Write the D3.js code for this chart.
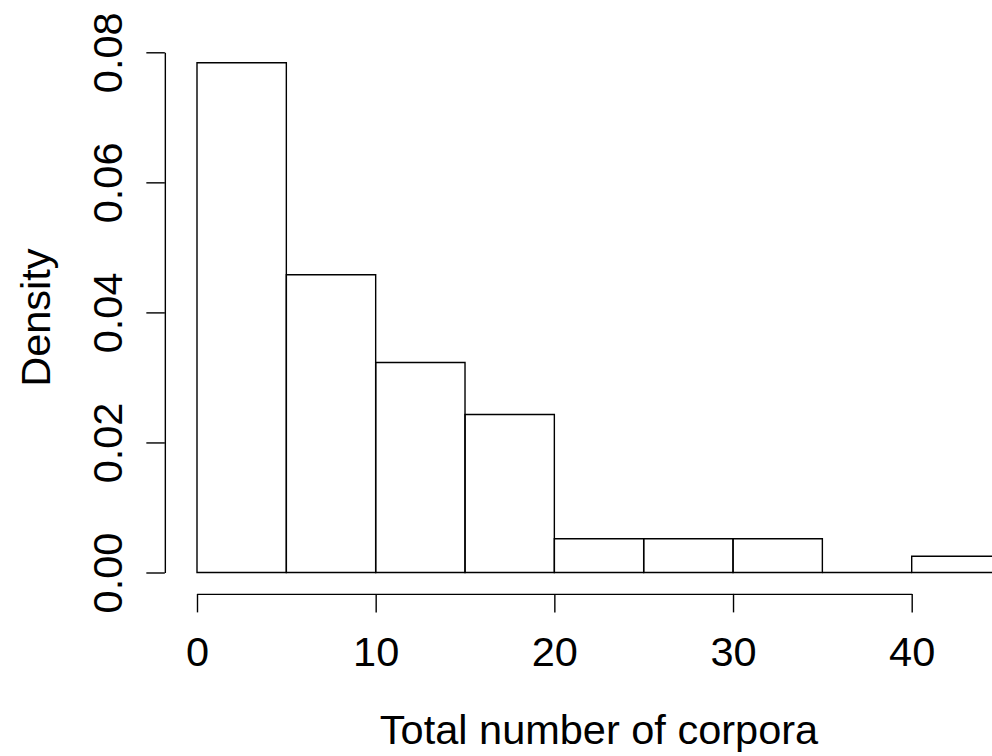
<!DOCTYPE html>
<html>
<head>
<meta charset="utf-8">
<script src="https://cdn.jsdelivr.net/npm/d3@7"></script>
<style>
  html, body { margin: 0; padding: 0; background: #fff; }
  svg { display: block; }
  text { font-family: "Liberation Sans", Arial, Helvetica, sans-serif; fill: #000; }
</style>
</head>
<body>
<div id="chart"></div>
<script>
// histogram bins (width 5) and densities
const binStarts = [0, 5, 10, 15, 20, 25, 30, 35, 40];
const binWidth = 5;
const densities = [0.0784, 0.0458, 0.0323, 0.0243, 0.0052, 0.0052, 0.0052, 0, 0.0025];
const xTicks = [0, 10, 20, 30, 40];
const yTicks = [0, 0.02, 0.04, 0.06, 0.08];
const yTickLabels = ['0.00', '0.02', '0.04', '0.06', '0.08'];
const xTitle = 'Total number of corpora';
const yTitle = 'Density';

const width = 992, height = 756;
const fontSize = 41.5;
const lw = 1.4;

const svg = d3.select('#chart').append('svg')
  .attr('width', width)
  .attr('height', height);

// plot region like R: data range padded by 4% on each side
const xMin = 0, xMax = 45;
const yMax = d3.max(densities);
const xPad = (xMax - xMin) * 0.04, yPad = yMax * 0.04;

const x = d3.scaleLinear().domain([0, 40]).range([197, 911.7]);
const y = d3.scaleLinear().domain([0, 0.08]).range([572.5, 52.3]);

const axisX = y(-yPad) + 1;   // x axis sits on the bottom of the plot region
const axisY = x(xMin - xPad);  // y axis on the left edge

// bars as closed paths so an empty bin still leaves its bottom line
svg.append('g').selectAll('path')
  .data(densities)
  .join('path')
  .attr('d', (d, i) => {
    const x0 = x(binStarts[i]), x1 = x(binStarts[i] + binWidth);
    return `M${x0},${y(0)}V${y(d)}H${x1}V${y(0)}Z`;
  })
  .attr('fill', 'none')
  .attr('stroke', '#000')
  .attr('stroke-width', lw);

// x axis
const xAxisScale = x.copy().domain([0, 40]).range([x(0), x(40)]);
const gx = svg.append('g')
  .attr('transform', `translate(0,${axisX})`)
  .call(d3.axisBottom(xAxisScale).tickValues(xTicks).tickSize(18.5).tickSizeOuter(0).tickFormat(d3.format('d')));
gx.select('.domain').attr('stroke-width', lw);
gx.selectAll('.tick line').attr('stroke-width', lw);
gx.selectAll('.tick text')
  .attr('y', 666 - axisX)
  .attr('dy', null)
  .attr('font-size', fontSize)
  .attr('font-family', null)
  .attr('fill', '#000');

// y axis
const yAxisScale = y.copy().domain([0, 0.08]).range([y(0), y(0.08)]);
const gy = svg.append('g')
  .attr('transform', `translate(${axisY},0)`)
  .call(d3.axisLeft(yAxisScale).tickValues(yTicks).tickSize(18.5).tickSizeOuter(0)
    .tickFormat((d, i) => yTickLabels[i]));
gy.select('.domain').attr('stroke-width', lw);
gy.selectAll('.tick line').attr('stroke-width', lw);
gy.selectAll('.tick text')
  .attr('x', null)
  .attr('dy', null)
  .attr('transform', `translate(${122 - axisY},0) rotate(-90)`)
  .attr('text-anchor', 'middle')
  .attr('font-size', fontSize)
  .attr('font-family', null)
  .attr('fill', '#000');

// titles, centred on the plot region
svg.append('text')
  .attr('x', (x(xMin - xPad) + x(xMax + xPad)) / 2)
  .attr('y', 744)
  .attr('text-anchor', 'middle')
  .attr('font-size', fontSize)
  .text(xTitle);

svg.append('text')
  .attr('transform', `translate(50,${(y(-yPad) + y(yMax + yPad)) / 2}) rotate(-90)`)
  .attr('text-anchor', 'middle')
  .attr('font-size', fontSize)
  .text(yTitle);
</script>
</body>
</html>
